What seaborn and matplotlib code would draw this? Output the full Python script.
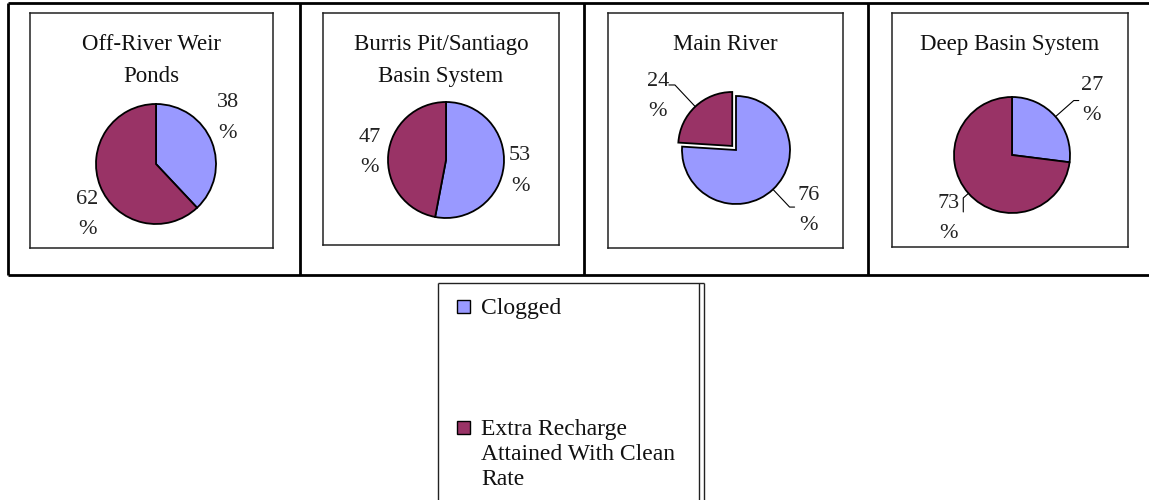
import numpy as np
import matplotlib
matplotlib.use("Agg")
import matplotlib.pyplot as plt
from matplotlib.lines import Line2D
from matplotlib.patches import Rectangle
import seaborn as sns

# Chart data
titles = ["Off-River Weir\nPonds", "Burris Pit/Santiago\nBasin System", "Main River", "Deep Basin System"]
categories = ["Clogged", "Extra Recharge\nAttained With Clean\nRate"]
clogged = [38, 53, 76, 27]
extra = [62, 47, 24, 73]

sns.set_theme(style="white")
plt.rcParams["font.family"] = ["Liberation Serif", "DejaVu Serif"]
colors = sns.color_palette(["#9999FF", "#993366"])

W, H = 1149, 500
fig = plt.figure(figsize=(W / 100, H / 100), dpi=100)
fig.patch.set_facecolor("white")


def fx(x):
    return x / W


def fy(y):
    return 1 - y / H


def fline(xs, ys, lw=2.0, color="black"):
    fig.add_artist(Line2D([fx(v) for v in xs], [fy(v) for v in ys], lw=lw, color=color,
                          transform=fig.transFigure, solid_capstyle="butt"))


# outer table frame
fline([8, W], [3, 3])
fline([8, W], [275, 275])
for xv in [8, 300, 584, 868]:
    fline([xv, xv], [3, 275])

# layout: chart box (x0, y0, x1, y1), pie center, radius (px), explode (px), label polar offsets
boxes = [(30, 13, 273, 248), (323, 13, 559, 245), (608, 13, 843, 248), (892, 13, 1128, 247)]
centers = [(156, 164), (446, 160), (736, 150), (1012, 155)]
radii = [60, 58, 54, 58]
explodes = [(0, 0), (0, 0), (0, 5.5), (0, 0)]
label_pos = [[(1.42, 11), (1.42, 15)], [(1.29, -3), (1.32, 0)],
             [(1.75, 7), (1.75, 12.6)], [(1.67, -7), (1.55, 3.6)]]
# leader lines: (end distance, tail dx, tail dy) or None
leaders = [[None, None], [None, None],
           [(1.45, 5, 0), (1.55, -6, 0)], [(1.42, 5, 0), (1.12, 0, -14)]]

for i in range(4):
    x0, y0, x1, y1 = boxes[i]
    w, h = x1 - x0, y1 - y0
    ax = fig.add_axes([fx(x0), fy(y1), w / W, h / H])
    cx, cy = centers[i][0] - x0, y1 - centers[i][1]
    r = radii[i]
    vals = [clogged[i], extra[i]]
    wedges, _ = ax.pie(vals, colors=colors, startangle=90, counterclock=False,
                       center=(cx, cy), radius=r, explode=explodes[i], frame=True,
                       wedgeprops=dict(edgecolor="black", linewidth=1.3))
    ax.set_xlim(0, w)
    ax.set_ylim(0, h)
    ax.set_aspect("auto")
    ax.set_xticks([])
    ax.set_yticks([])
    for s in ax.spines.values():
        s.set_color("#222222")
        s.set_linewidth(1.1)
    ax.text(w / 2, h - 21, titles[i], ha="center", va="top", fontsize=16.5,
            linespacing=1.68, color="#111111")
    for j, wd in enumerate(wedges):
        mid = np.deg2rad((wd.theta1 + wd.theta2) / 2)
        wcx, wcy = wd.center
        dist, dang = label_pos[i][j]
        a = mid + np.deg2rad(dang)
        lx, ly = cx + dist * r * np.cos(a), cy + dist * r * np.sin(a)
        ax.text(lx, ly, f"{vals[j]}\n%", ha="center", va="center", fontsize=16,
                linespacing=1.8, color="#222222")
        ld = leaders[i][j]
        if ld is not None:
            ex, ey = wcx + r * np.cos(mid), wcy + r * np.sin(mid)
            mx, my = wcx + ld[0] * r * np.cos(mid), wcy + ld[0] * r * np.sin(mid)
            ax.plot([ex, mx, mx + ld[1]], [ey, my, my + ld[2]], color="black", lw=0.8)

# legend box
lx0, ly0, lx1 = 438, 283, 699
fline([lx0, lx1 + 5], [ly0, ly0], lw=1.0, color="#222222")
fline([lx0, lx0], [ly0, H], lw=1.0, color="#222222")
fline([lx1, lx1], [ly0, H], lw=1.0, color="#222222")
fline([lx1 + 5, lx1 + 5], [ly0, H], lw=1.0, color="#222222")

leg_y = [306, 427]
for k, lab in enumerate(categories):
    sq = 13
    fig.add_artist(Rectangle((fx(463 - sq / 2), fy(leg_y[k] + sq / 2)), sq / W, sq / H,
                             facecolor=colors[k], edgecolor="black", lw=1.0,
                             transform=fig.transFigure))
    fig.text(fx(481), fy(leg_y[k] - 8), lab, ha="left", va="top", fontsize=17,
             linespacing=1.26, color="#111111")

fig.savefig("out.png", dpi=100)
